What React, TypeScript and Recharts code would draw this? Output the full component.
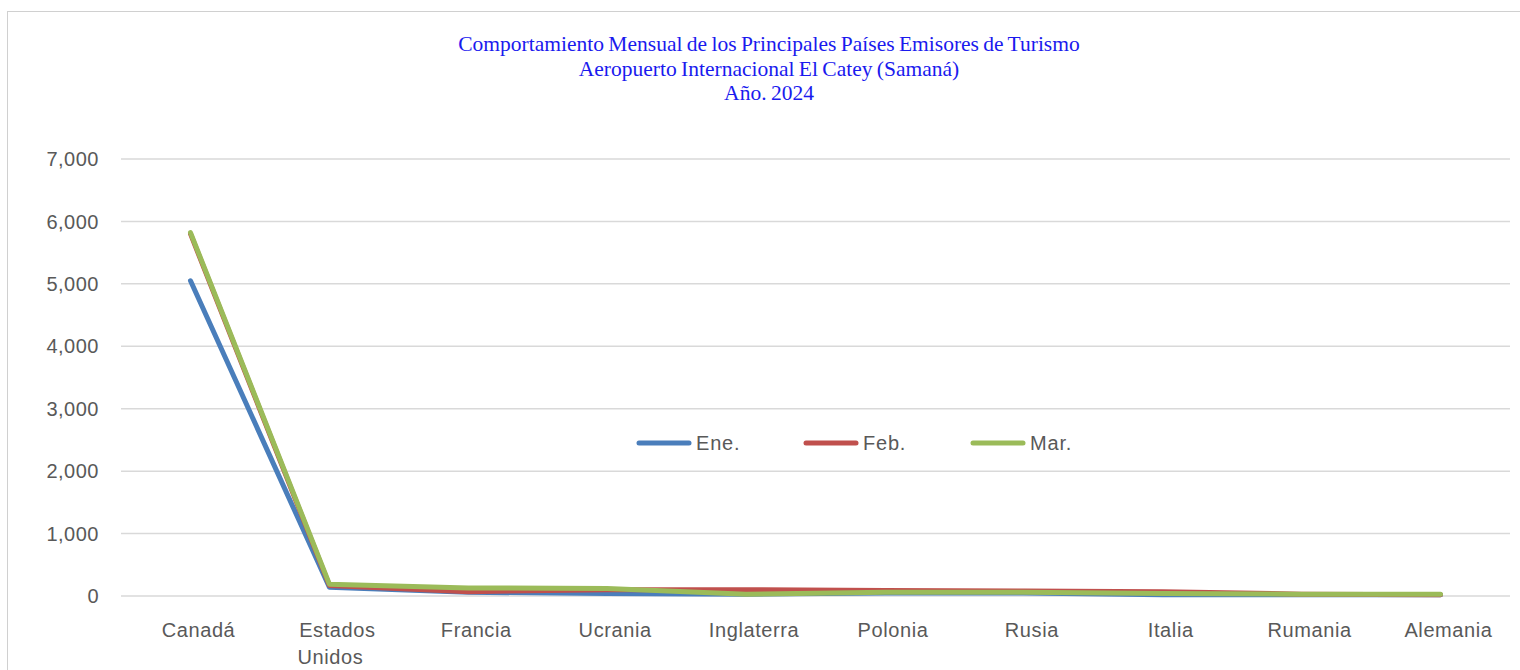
import React from 'react';
import { LineChart, Line, XAxis, YAxis, CartesianGrid } from 'recharts';

const countries = ['Canadá', 'Estados Unidos', 'Francia', 'Ucrania', 'Inglaterra', 'Polonia', 'Rusia', 'Italia', 'Rumania', 'Alemania'];
const ene = [5050, 140, 60, 40, 30, 50, 50, 20, 20, 20];
const feb = [5800, 170, 70, 100, 100, 90, 80, 70, 30, 20];
const mar = [5820, 190, 130, 120, 30, 60, 60, 40, 30, 30];
const yTicks = [0, 1000, 2000, 3000, 4000, 5000, 6000, 7000];
const seriesKeys = ['ene', 'feb', 'mar'];
const seriesNames = ['Ene.', 'Feb.', 'Mar.'];
const seriesColors = ['#4a7ebb', '#c0504d', '#9bbb59'];
const titleLines = [
  'Comportamiento Mensual de los Principales Países Emisores de Turismo',
  'Aeropuerto Internacional El Catey (Samaná)',
  'Año. 2024',
];

const data = countries.map((c, i) => ({ country: c, ene: ene[i], feb: feb[i], mar: mar[i] }));

const AXIS_FONT = '"Liberation Sans", Arial, sans-serif';

const XTick = (props: any) => {
  const { x, y, payload } = props;
  const lines = String(payload.value).split(' ');
  return (
    <g transform={`translate(${x + 8},${y})`}>
      <text textAnchor="middle" fill="#595959" fontSize={20} fontFamily={AXIS_FONT} letterSpacing={0.6}>
        {lines.map((l, i) => (
          <tspan key={i} x={i === 0 ? 0 : -7} dy={i === 0 ? 41 : 27}>{l}</tspan>
        ))}
      </text>
    </g>
  );
};

const fmt = (v: number) => v.toLocaleString('en-US');

export default function App() {
  return (
    <div style={{ position: 'absolute', left: 7, top: 11, width: 1512, height: 658, borderTop: '1px solid #d0d0d0', borderLeft: '1px solid #d0d0d0', background: '#fff' }}>
      <div style={{ position: 'absolute', left: 261, top: 20, width: 1000, textAlign: 'center', fontFamily: '"Liberation Serif", "Times New Roman", serif', fontSize: 21.5, wordSpacing: -1, lineHeight: '24.5px', color: '#1a1aee', zIndex: 2 }}>
        {titleLines.map((t, i) => (<div key={i}>{t}</div>))}
      </div>
      <LineChart width={1512} height={658} data={data} margin={{ top: 147, right: 10, bottom: 14, left: 0 }}>
        <CartesianGrid vertical={false} stroke="#d9d9d9" strokeWidth={1.5} />
        <XAxis dataKey="country" axisLine={false} tickLine={false} tickSize={0} tickMargin={0} interval={0} height={60}
          padding={{ left: 69.5, right: 69.5 }} tick={<XTick />} />
        <YAxis domain={[0, 7000]} ticks={yTicks} axisLine={false} tickLine={false} tickSize={0} tickMargin={22} width={113} tickFormatter={fmt}
          tick={{ fill: '#595959', fontSize: 20, fontFamily: AXIS_FONT, letterSpacing: 0.5 }} />
        {seriesKeys.map((k, i) => (
          <Line key={k} dataKey={k} name={seriesNames[i]} stroke={seriesColors[i]} strokeWidth={5} dot={false} activeDot={false}
            strokeLinecap="round" strokeLinejoin="round" isAnimationActive={false} type="linear" />
        ))}
      </LineChart>
      <div style={{ position: 'absolute', left: 627, top: 419, height: 24, display: 'flex', alignItems: 'center' }}>
        {seriesNames.map((n, i) => (
          <div key={n} style={{ width: 167, display: 'flex', alignItems: 'center' }}>
            <svg width={58} height={8} style={{ display: 'block' }}>
              <line x1={4} y1={4} x2={54} y2={4} stroke={seriesColors[i]} strokeWidth={5} strokeLinecap="round" />
            </svg>
            <span style={{ marginLeft: 3, fontFamily: AXIS_FONT, fontSize: 20, color: '#595959', letterSpacing: 0.8 }}>{n}</span>
          </div>
        ))}
      </div>
    </div>
  );
}
